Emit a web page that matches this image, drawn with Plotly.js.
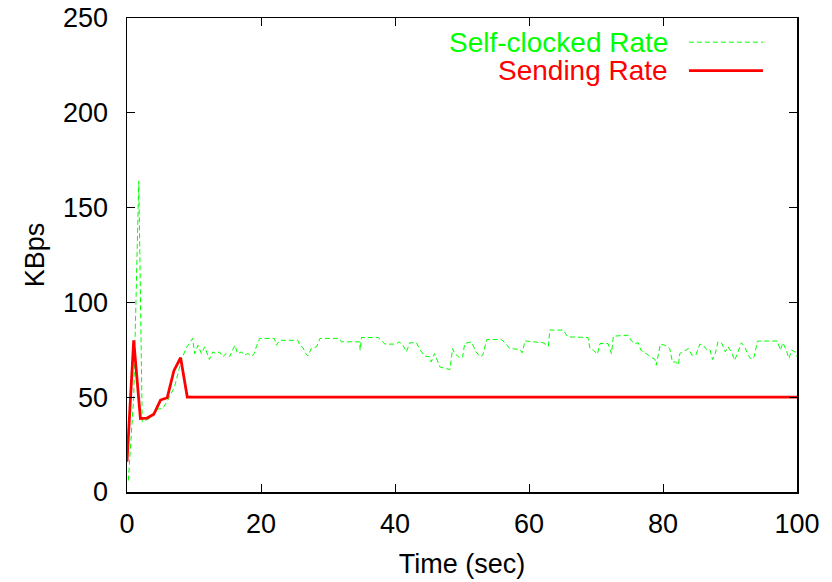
<!DOCTYPE html>
<html>
<head>
<meta charset="utf-8">
<script src="https://cdn.plot.ly/plotly-3.0.1.min.js"></script>
<style>html,body{margin:0;padding:0;background:#fff;}#chart{width:832px;height:582px;}</style>
</head>
<body>
<div id="chart"></div>
<script>
// Self-clocked Rate (green dashed)
const selfTime = [0.2,1.0,1.76,2.27,3.36,4.36,5.35,6.1,7.1,8.1,8.8,9.3,9.8,10.1,10.6,11.1,11.6,12.3,12.8,13.3,13.8,14.3,14.8,15.3,16.1,16.5,17.1,17.5,18.0,18.6,19.0,19.3,19.8,22.0,22.3,22.8,25.5,25.8,26.3,26.5,27.0,27.5,28.3,28.8,31.7,32.0,34.7,34.8,35.0,37.5,38.0,38.5,40.2,40.6,41.2,41.7,42.2,43.2,43.7,44.4,45.2,45.4,45.9,46.2,46.7,47.4,48.2,48.6,48.9,49.4,49.7,50.1,50.4,51.4,52.1,52.7,53.1,53.7,55.9,56.6,57.1,58.6,59.0,59.4,62.1,62.9,63.1,65.1,65.8,68.8,69.1,69.6,70.2,70.6,71.8,72.3,72.6,74.8,75.3,75.8,76.3,76.7,77.3,77.8,78.3,78.8,79.0,79.3,79.6,80.3,81.0,81.4,81.9,82.3,82.5,83.0,83.8,84.3,84.9,85.5,86.0,86.5,87.0,87.4,87.8,88.2,88.8,89.3,89.7,90.2,90.7,91.1,91.7,92.2,92.7,93.2,93.6,94.1,97.1,97.5,97.9,98.4,98.8,99.2,99.7,100];
const selfRate = [6,50,164,37,38.8,43.6,44.1,48.5,55.5,69.5,75.7,78.3,81,73,77.4,73,76.6,69.9,73.9,73,73.9,71.3,73,71.3,77.4,73,73.9,72.2,73,71.7,73,76.6,81,81,77.4,80,80,77.4,76,73.9,71.7,75.7,76.6,81,81,79.2,79.2,74.8,81.5,81.5,79.7,78,78,79.2,77.4,73.9,78.7,78.7,75.2,71.7,71.3,68.6,73,70.4,66,65.2,64.6,75.7,73,71.7,70.4,71.3,78.3,79.2,73.9,71.3,72.2,80.4,80.4,78,75.7,75.2,73.4,79.7,78.7,76.9,85.4,85.4,81.8,81.5,75.7,74.8,72.7,78.3,78.3,73,82.2,82.7,79.7,78.3,78.7,74.8,73.6,72.2,71,69.9,66.9,73,78,77.4,75.7,68.6,68.6,66.9,73,73.9,75.7,72.2,72.2,78,77.4,75.2,75.2,69.9,73,79.2,78.3,73.9,76.6,73.9,69.5,73,78.7,76.6,72.2,69.9,71.3,79.6,79.6,74.8,78.7,74.8,70.4,74.8,73.9,71.3];

// Sending Rate (red solid)
const sendTime = [0,1,2,3,4,5,6,7,8,9,100];
const sendRate = [16,80,38.8,39,41,48.5,49.7,64,70.8,50,50];

const seriesNames = ["Self-clocked Rate", "Sending Rate"];
const seriesColors = ["#00ff00", "#ff0000"];

const xTicks = [0,20,40,60,80,100];
const yTicks = [0,50,100,150,200,250];

const FONT = '"Liberation Sans", Arial, Helvetica, sans-serif';

const traces = [
  {x: selfTime, y: selfRate, type: 'scatter', mode: 'lines', name: seriesNames[0],
   line: {color: seriesColors[0], width: 1, dash: '5px,3px'}, showlegend: false},
  {x: sendTime, y: sendRate, type: 'scatter', mode: 'lines', name: seriesNames[1],
   line: {color: seriesColors[1], width: 2.8}, showlegend: false}
];

const axisCommon = {
  showline: true, linecolor: '#000', linewidth: 1.5, mirror: 'allticks',
  ticks: 'inside', ticklen: 8, tickwidth: 1, tickcolor: '#000',
  showgrid: false, zeroline: false,
  tickfont: {family: FONT, size: 27, color: '#000'}
};

const layout = {
  width: 832, height: 582,
  margin: {l: 127, r: 35, t: 18, b: 90},
  paper_bgcolor: '#fff', plot_bgcolor: '#fff',
  xaxis: Object.assign({}, axisCommon, {
    range: [0, 100], tickvals: xTicks, ticktext: xTicks.map(String),
    ticklabelstandoff: 7,
    title: {text: 'Time (sec)', font: {family: FONT, size: 27, color: '#000'}, standoff: 16}
  }),
  yaxis: Object.assign({}, axisCommon, {
    range: [0, 250], tickvals: yTicks, ticktext: yTicks.map(String),
    ticklabelstandoff: 12,
    title: {text: 'KBps', font: {family: FONT, size: 27, color: '#000'}, standoff: 10}
  }),
  annotations: [
    {xref: 'paper', yref: 'paper', x: 0.8103, y: 0.949, xanchor: 'right', yanchor: 'middle',
     text: seriesNames[0], showarrow: false, font: {family: FONT, size: 28, color: seriesColors[0]}},
    {xref: 'paper', yref: 'paper', x: 0.8103, y: 0.889, xanchor: 'right', yanchor: 'middle',
     text: seriesNames[1], showarrow: false, font: {family: FONT, size: 28, color: seriesColors[1]}}
  ],
  shapes: [
    {type: 'line', xref: 'paper', yref: 'paper', x0: 0.8387, x1: 0.9492, y0: 0.949, y1: 0.949,
     line: {color: seriesColors[0], width: 1, dash: '5px,3px'}},
    {type: 'line', xref: 'paper', yref: 'paper', x0: 0.8387, x1: 0.9492, y0: 0.889, y1: 0.889,
     line: {color: seriesColors[1], width: 2.8}}
  ]
};

Plotly.newPlot('chart', traces, layout, {displayModeBar: false, staticPlot: true});
</script>
</body>
</html>
